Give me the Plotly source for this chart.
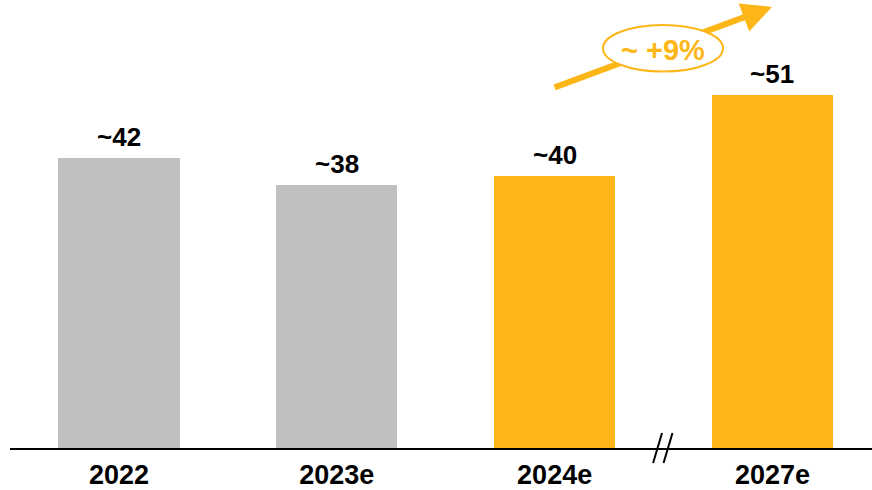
import plotly.graph_objects as go

categories = ["2022", "2023e", "2024e", "2027e"]
values = [42, 38, 39.4, 51]
value_labels = ["~42", "~38", "~40", "~51"]
bar_colors = ["#BFBFBF", "#BFBFBF", "#FDB618", "#FDB618"]
growth_label = "~ +9%"

ORANGE = "#FDB618"
FONT = "Liberation Sans, Arial, sans-serif"

x_idx = list(range(len(categories)))

fig = go.Figure()
fig.add_trace(go.Bar(
    x=x_idx, y=values, width=0.556,
    marker=dict(color=bar_colors, line=dict(width=0)),
    hoverinfo="skip", showlegend=False,
))

# value labels above bars
for xi, v, lab in zip(x_idx, values, value_labels):
    fig.add_annotation(x=xi, y=v, text=f"<b>{lab}</b>", showarrow=False,
                       yanchor="bottom", yshift=4,
                       font=dict(family=FONT, size=26, color="black"))

# growth arrow: from 2024e to 2027e
x_start, x_end = x_idx[2], x_idx[3] - 0.002
y_start, y_end = 52.16, 63.8
fig.add_shape(type="line", xref="x", yref="y",
              x0=x_start, y0=y_start, x1=x_end - 0.065, y1=y_end - 0.75,
              line=dict(color=ORANGE, width=6), layer="above")
fig.add_annotation(x=x_end, y=y_end, xref="x", yref="y",
                   ax=-28, ay=10.5, axref="pixel", ayref="pixel",
                   showarrow=True, arrowhead=2, arrowsize=1.0, arrowwidth=6,
                   arrowcolor=ORANGE, text="")
# ellipse with label
fig.add_shape(type="circle", xref="x", yref="y",
              x0=2.222, x1=2.773, y0=54.45, y1=61.2,
              line=dict(color=ORANGE, width=2), fillcolor="white", layer="above")
fig.add_annotation(x=2.4975, y=57.6, text=f"<b>{growth_label}</b>", showarrow=False,
                   font=dict(family=FONT, size=29, color=ORANGE))

# axis break marks between 2024e and 2027e
brk = (x_idx[2] + x_idx[3]) / 2
for off in (-0.048, 0.0):
    fig.add_shape(type="line", xref="x", yref="paper",
                  x0=brk + off, y0=-0.0333, x1=brk + off + 0.041, y1=0.0333,
                  line=dict(color="black", width=2), layer="above")

fig.update_layout(
    width=872, height=490,
    margin=dict(l=10, r=0, t=0, b=39),
    plot_bgcolor="white", paper_bgcolor="white",
    bargap=0,
    xaxis=dict(range=[-0.5005, 3.457], tickvals=x_idx,
               ticktext=[f"<b>{c}</b>" for c in categories],
               tickfont=dict(family=FONT, size=27, color="black"),
               ticklabelstandoff=2,
               showline=True, linecolor="black", linewidth=2,
               showgrid=False, zeroline=False, ticks="", fixedrange=True),
    yaxis=dict(range=[0, 64.8], visible=False, showgrid=False, fixedrange=True),
)

fig.write_html("out.html", config={"displayModeBar": False})
